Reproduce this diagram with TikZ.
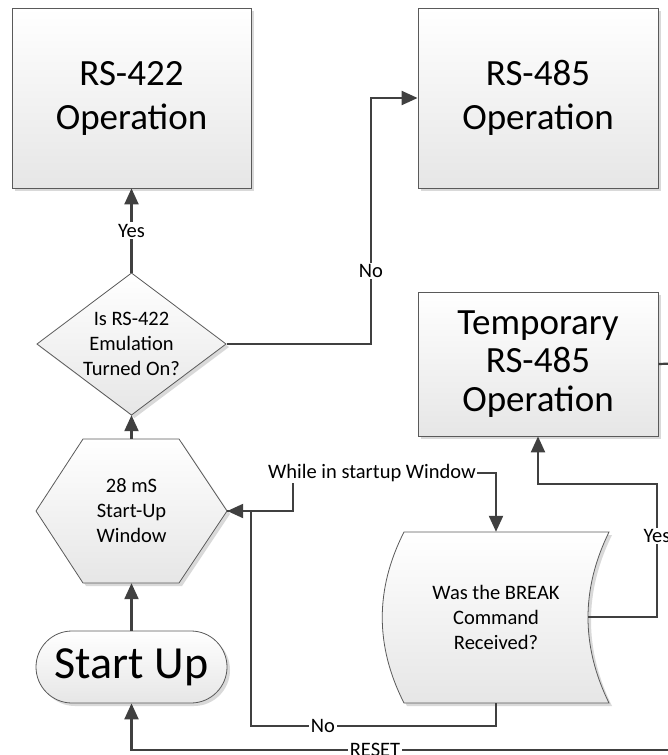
\documentclass[tikz,border=0pt]{standalone}
\usepackage{fontspec}
\setmainfont{Carlito}
\usetikzlibrary{arrows.meta,shadows}
\definecolor{boxline}{HTML}{5A5A5A}
\definecolor{boxfill}{HTML}{E6E6E6}
\definecolor{linegray}{HTML}{404040}

\begin{document}
\begin{tikzpicture}
[x=1pt,y=-1pt,
 box/.style={rectangle,draw=boxline,line width=.8pt,top color=white,bottom color=boxfill,
   drop shadow={shadow xshift=3pt,shadow yshift=-3pt,fill=black!15,opacity=1},
   align=center,font=\fontsize{37}{44}\selectfont},
 shp/.style={draw=boxline,line width=.8pt,top color=white,bottom color=boxfill,
   drop shadow={shadow xshift=3pt,shadow yshift=-3pt,fill=black!15,opacity=1}},
 txt/.style={align=center,font=\fontsize{20.5}{25}\selectfont},
 lbl/.style={fill=white,inner sep=1.5pt,font=\fontsize{20.5}{25}\selectfont},
 wire/.style={draw=linegray,line width=2.2pt},
 conn/.style={wire,-{Triangle[length=16pt,width=14pt]}}]
   \useasboundingbox (0,0) rectangle (668,755);
   \path[shp] (83,439) -- (179,439) -- (227,511) -- (179,583) -- (83,583) -- (36,511) -- cycle;
   \path[shp] (131.5,273) -- (226,344) -- (131.5,415) -- (37,344) -- cycle;
   \path[shp] (404,532) -- (609,532) .. controls (581,589) and (581,646) .. (609,703)
      -- (404,703) .. controls (375,646) and (375,589) .. (404,532) -- cycle;
   \node[box,minimum width=239pt,minimum height=180pt] (r422) at (131.5,98) {RS-422\\Operation};
   \node[box,minimum width=240pt,minimum height=180pt] (r485) at (538,98) {RS-485\\Operation};
   \node[box,minimum width=240pt,minimum height=144pt,font=\fontsize{37}{38.5}\selectfont] (tmp) at (538,364) {Temporary\\RS-485\\Operation};
   \node[txt,minimum width=190pt,minimum height=142pt] (dec) at (131.5,344) {Is RS-422\\Emulation\\Turned On?};
   \node[txt,minimum width=191pt,minimum height=144pt] (win) at (131.5,511) {28 mS\\Start-Up\\Window};
   \node[txt,minimum width=227pt,minimum height=171pt] (brk) at (496,617.5) {Was the BREAK\\Command\\Received?};
   \node[box,rounded corners=36pt,minimum width=191pt,minimum height=72pt,font=\fontsize{46}{50}\selectfont] (start) at (131.5,667) {Start Up};
   \coordinate (brkin) at (588,617);
   \coordinate (tmpout) at (690,363);
   \coordinate (rst) at (690,750);
    \draw[conn] (start) -- (win);
    \draw[conn] (win) -- (dec);
    \draw[conn] (dec) -- node[lbl] {Yes} (r422);
    \draw[conn] (dec.east) -| (371,271) node[lbl] {No} |- (r485.west);
    \draw[wire] (tmp.east) -- (tmpout);
    \draw[conn] (win.east) -- (293,511) |- (372,473) node[lbl] {While in startup Window} -| (brk.north);
    \draw[conn] (brk.south) |- (323,726) node[lbl] {No} -| (251,511) -- (win.east);
    \draw[conn] (brkin) -| (657,536) node[lbl] {Yes} -- (657,484) -| (tmp.south);
    \draw[conn] (rst) -- (375,750) node[lbl] {RESET} -| (start.south);
  \end{tikzpicture}
\end{document}
